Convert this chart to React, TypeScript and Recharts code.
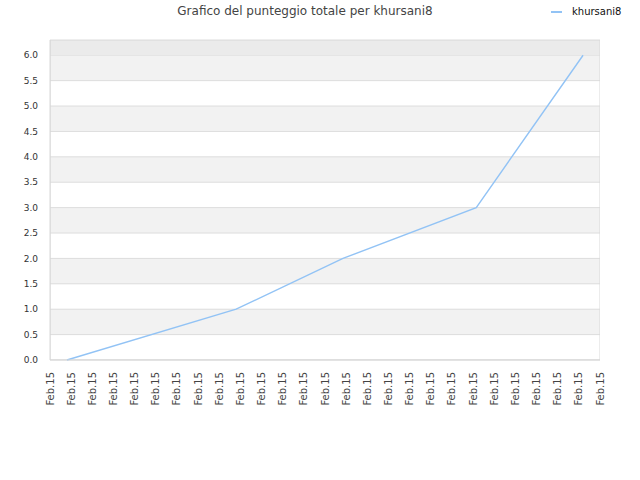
import {
  CartesianGrid,
  Legend,
  Line,
  LineChart,
  ReferenceArea,
  XAxis,
  YAxis,
} from 'recharts';

// x positions (tick index units, 27 ticks)
const pointX = [0.8, 8.8, 13.85, 20.15, 25.2];
const scores = [0, 1, 2, 3, 6];
const xTickLabels = Array.from({ length: 27 }, () => 'Feb.15');
const xTicks = xTickLabels.map((_, i) => i);
const yTicks = [0, 0.5, 1, 1.5, 2, 2.5, 3, 3.5, 4, 4.5, 5, 5.5, 6];

const seriesName = 'khursani8';
const title = 'Grafico del punteggio totale per khursani8';
const font = '"DejaVu Sans", sans-serif';

const data = pointX.map((x, i) => ({ x, score: scores[i] }));

function XTick(props: any) {
  const { x, payload } = props;
  return (
    <text
      x={x}
      y={372}
      transform={`rotate(-90, ${x}, 372)`}
      textAnchor="end"
      dy="0.35em"
      fontSize={10}
      fill="#444"
      fontFamily={font}
    >
      {xTickLabels[payload.value]}
    </text>
  );
}

function LegendContent(props: any) {
  const item = props.payload?.[0];
  if (!item) return null;
  return (
    <div style={{ display: 'flex', alignItems: 'center', fontFamily: font, fontSize: 10, color: '#111' }}>
      <svg width={11} height={4} style={{ marginRight: 10 }}>
        <line x1={0} y1={2} x2={11} y2={2} stroke={item.color} strokeWidth={2} />
      </svg>
      {item.value}
    </div>
  );
}

export default function App() {
  return (
    <div style={{ position: 'absolute', left: 0, top: 0, width: 640, height: 480, background: '#fff' }}>
      <div
        style={{
          position: 'absolute',
          top: 4,
          left: 0,
          width: 610,
          textAlign: 'center',
          fontFamily: font,
          fontSize: 12,
          color: '#444',
        }}
      >
        {title}
      </div>
      <LineChart
        width={640}
        height={480}
        data={data}
        margin={{ top: 40, right: 40, left: 0, bottom: 0 }}
      >
        <CartesianGrid
          vertical={false}
          stroke="#dddddd"
          horizontalFill={['#ffffff', '#f2f2f2']}
          fillOpacity={1}
        />
        <ReferenceArea y1={6} y2={6.3} fill="#ebebeb" fillOpacity={1} stroke="none" ifOverflow="hidden" />
        <ReferenceArea x1={0} x2={26} y1={0} y2={6.3} fill="none" stroke="#d8d8d8" ifOverflow="hidden" />
        <XAxis
          type="number"
          dataKey="x"
          domain={[0, 26]}
          ticks={xTicks}
          interval={0}
          height={120}
          tick={<XTick />}
          tickLine={false}
          axisLine={{ stroke: '#d8d8d8' }}
        />
        <YAxis
          domain={[0, 6.3]}
          ticks={yTicks}
          width={50}
          tickFormatter={(v: number) => v.toFixed(1)}
          tick={{ fontSize: 9, fill: '#333', fontFamily: font }}
          tickLine={false}
          tickMargin={6}
          axisLine={{ stroke: '#d8d8d8' }}
          interval={0}
        />
        <Legend
          layout="vertical"
          verticalAlign="middle"
          align="center"
          content={<LegendContent />}
          wrapperStyle={{ top: 6, left: 551, width: 90 }}
        />
        <Line
          type="linear"
          dataKey="score"
          name={seriesName}
          stroke="#92c3f5"
          strokeWidth={1.4}
          dot={false}
          isAnimationActive={false}
        />
      </LineChart>
    </div>
  );
}
